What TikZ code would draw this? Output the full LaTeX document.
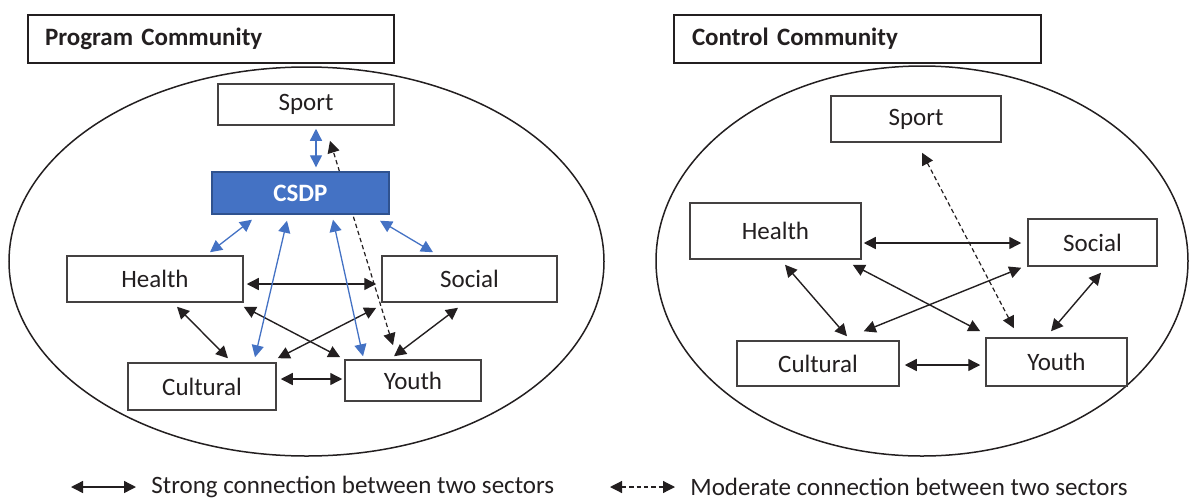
\documentclass[tikz,border=0pt]{standalone}
\usepackage{fontspec}
\setmainfont{Carlito}
\usetikzlibrary{arrows.meta,calc}
\definecolor{csdpblue}{HTML}{4472C4}
\definecolor{csdpedge}{HTML}{2F528F}
\definecolor{ink}{HTML}{231F20}
\pgfdeclarelayer{bg}
\pgfsetlayers{bg,main}
\begin{document}
\begin{tikzpicture}[x=0.5pt,y=-0.5pt,
  font=\fontsize{12.5}{15}\selectfont, text=ink,
  tipa/.tip={Triangle[length=6pt,width=6pt]},
  box/.style={draw=ink!85, line width=0.75pt, fill=white, inner sep=0pt},
  csdpbox/.style={draw=csdpedge, line width=0.7pt, fill=csdpblue, text=white,
    font=\fontsize{12.5}{15}\selectfont\bfseries, inner sep=0pt},
  titlebox/.style={draw=ink, line width=1.3pt, inner ysep=0pt, align=left,
    minimum height=24pt, font=\fontsize{12.5}{15}\selectfont\bfseries},
  strong/.style={draw=ink, line width=0.7pt, tipa-tipa},
  blueline/.style={draw=csdpblue, line width=0.65pt, tipa-tipa},
  moderate/.style={draw=ink, line width=0.6pt, dash pattern=on 2.2pt off 1.5pt, tipa-tipa},
  ring/.style={draw=ink, line width=0.75pt},
  legendtext/.style={anchor=west, inner sep=0pt}]
\useasboundingbox (0,0) rectangle (1189,499);

% title boxes
\node[titlebox, text width=166pt, inner xsep=8.5pt] (tl) at (211,39) {Program Community};
\node[titlebox, text width=165.5pt, inner xsep=9pt] (tr) at (857.5,39) {Control Community};

% communities
\draw[ring] (306.5,261.5) ellipse [x radius=297.5, y radius=194.5];
\draw[ring] (922,261) ellipse [x radius=266, y radius=195];

% left community nodes
\node[box, minimum width=88pt, minimum height=20.5pt] (spl) at (306,104.5) {Sport};
\node[csdpbox, minimum width=88.5pt, minimum height=21pt] (csl) at (300.5,193) {CSDP};
\node[box, minimum width=88pt, minimum height=23pt] (hl) at (155,279) {Health};
\node[box, minimum width=87.5pt, minimum height=23pt] (sl) at (469.5,279) {Social};
\node[box, minimum width=74pt, minimum height=23.5pt] (cl) at (202,386.5) {Cultural};
\node[box, minimum width=68pt, minimum height=20.5pt] (yl) at (413,380.5) {Youth};

% right community nodes
\node[box, minimum width=85pt, minimum height=23pt] (spr) at (916,119) {Sport};
\node[box, minimum width=85.5pt, minimum height=28pt] (hr) at (775.5,231) {Health};
\node[box, minimum width=64.5pt, minimum height=23.5pt] (sr) at (1092.5,242.5) {Social};
\node[box, minimum width=81pt, minimum height=22.5pt] (cr) at (818,363.5) {Cultural};
\node[box, minimum width=70.5pt, minimum height=24pt] (yr) at (1056.5,362) {Youth};

% left connectors
\begin{pgfonlayer}{bg}
\draw[moderate] ($(yl.north)+(-20,-14)$) -- ($(spl.south)+(24,15)$);
\end{pgfonlayer}
\draw[strong] ($(hl.east)+(3,5)$) -- ($(sl.west)+(-5,5)$);
\draw[strong] ($(hl.south)+(22,4)$) -- ($(cl.north)+(26,-4)$);
\draw[strong] ($(hl.south east)+(0,4)$) -- ($(yl.north west)+(-4,-2)$);
\draw[strong] ($(sl.south west)+(-5,5)$) -- ($(cl.north east)+(1,-4)$);
\draw[strong] ($(cl.east)+(4,-7.5)$) -- ($(yl.west)+(-2,-1.5)$);
\draw[strong] ($(sl.south)+(-11.5,5)$) -- ($(yl.north)+(-19,-3)$);
\draw[blueline] ($(spl.south)+(10,3)$) -- ($(csl.north)+(15.5,-4)$);
\draw[blueline] ($(csl.south)+(-48.5,5)$) -- ($(hl.north)+(55,-3)$);
\draw[blueline] ($(csl.south)+(-13.5,6)$) -- ($(cl.north)+(53,-5)$);
\draw[blueline] ($(csl.south)+(32.5,5)$) -- ($(yl.north)+(-50,-3)$);
\draw[blueline] ($(csl.south)+(79.5,6)$) -- ($(sl.north)+(-36.5,-3)$);

% right connectors
\draw[strong] ($(hr.east)+(2,12)$) -- ($(sr.west)+(-6,0.5)$);
\draw[strong] ($(hr.south)+(9.5,5)$) -- ($(cr.north)+(29,-4)$);
\draw[strong] ($(hr.south east)+(-9,5)$) -- ($(yr.north west)+(-5,-6)$);
\draw[strong] ($(sr.south west)+(-6,1)$) -- ($(cr.north east)+(-36,-9)$);
\draw[strong] ($(cr.east)+(5,1.5)$) -- ($(yr.west)+(-5,3)$);
\draw[strong] ($(sr.south)+(8.5,6)$) -- ($(yr.north)+(-5.5,-6)$);
\draw[moderate] ($(spr.south)+(6,10)$) -- ($(yr.north)+(-42.5,-9)$);

% legend
\coordinate (s1) at (71,487);
\coordinate (s2) at (136,487);
\coordinate (m1) at (610,487);
\coordinate (m2) at (675,487);
\draw[strong] (s1) -- (s2);
\draw[moderate] (m1) -- (m2);
\node[legendtext] (stxt) at (151,487) {Strong connection between two sectors};
\node[legendtext] (mtxt) at (690,487) {Moderate connection between two sectors};
\end{tikzpicture}
\end{document}
